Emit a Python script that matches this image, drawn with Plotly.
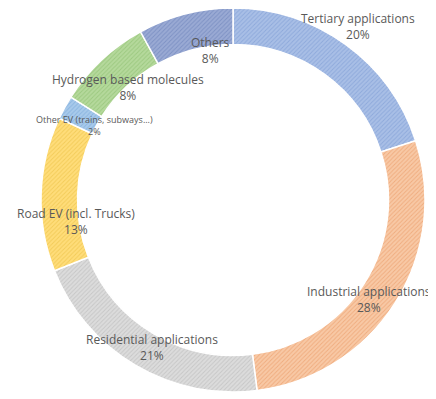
import math
import plotly.graph_objects as go

# Share of electricity demand by use
labels = [
    "Tertiary applications",
    "Industrial applications",
    "Residential applications",
    "Road EV (incl. Trucks)",
    "Other EV (trains, subways...)",
    "Hydrogen based molecules",
    "Others",
]
shares = [20, 28, 21, 13, 2, 8, 8]
colors = ["#A9BFE6", "#F8C9A6", "#DCDCDC", "#FFDD7A", "#A8CAEB", "#B5D99C", "#9AAAD4"]
pattern_fg = ["#8EA9DB", "#F0AC7E", "#C6C6C6", "#F3CB58", "#8BB5E0", "#9CC980", "#7D91C4"]
# manual label nudges in px (dx right, dy down), like the dragged Excel labels
label_nudge = [(27, -38), (-5, 10), (4, 4), (10, 27), (8, 6), (9, 9), (19, 12)]

W, H = 436, 399
# the page body adds ~8px offset, so the pie is pulled up/left a bit
margin = dict(l=33, r=19, t=0, b=15)

fig = go.Figure()

fig.add_trace(go.Pie(
    labels=labels,
    values=shares,
    sort=False,
    direction="clockwise",
    rotation=0,
    hole=0.81,
    textinfo="none",
    hoverinfo="label+percent",
    marker=dict(
        colors=colors,
        line=dict(color="white", width=1.5),
        pattern=dict(shape="/", fgcolor=pattern_fg, bgcolor=colors, size=3, solidity=0.3),
    ),
    showlegend=False,
))

# data labels: placed on the ring at each slice's middle angle
pw = W - margin["l"] - margin["r"]
ph = H - margin["t"] - margin["b"]
r_label = 0.87 * min(pw, ph) / 2
total = sum(shares)
cum = 0
for lab, v, (dx, dy) in zip(labels, shares, label_nudge):
    mid = (cum + v / 2) / total * 2 * math.pi
    cum += v
    x = 0.5 + r_label * math.sin(mid) / pw
    y = 0.5 + r_label * math.cos(mid) / ph
    small = v < 5
    fig.add_annotation(
        x=x, y=y, xref="paper", yref="paper",
        xanchor="center", yanchor="middle",
        xshift=dx, yshift=-dy,
        text=f"{lab}<br>{round(v / total * 100)}%",
        showarrow=False,
        font=dict(family="Open Sans", size=9 if small else 12, color="#595959"),
        align="center",
    )

fig.update_layout(
    width=W,
    height=H,
    margin=margin,
    paper_bgcolor="white",
    plot_bgcolor="white",
)

fig.write_html("out.html")
